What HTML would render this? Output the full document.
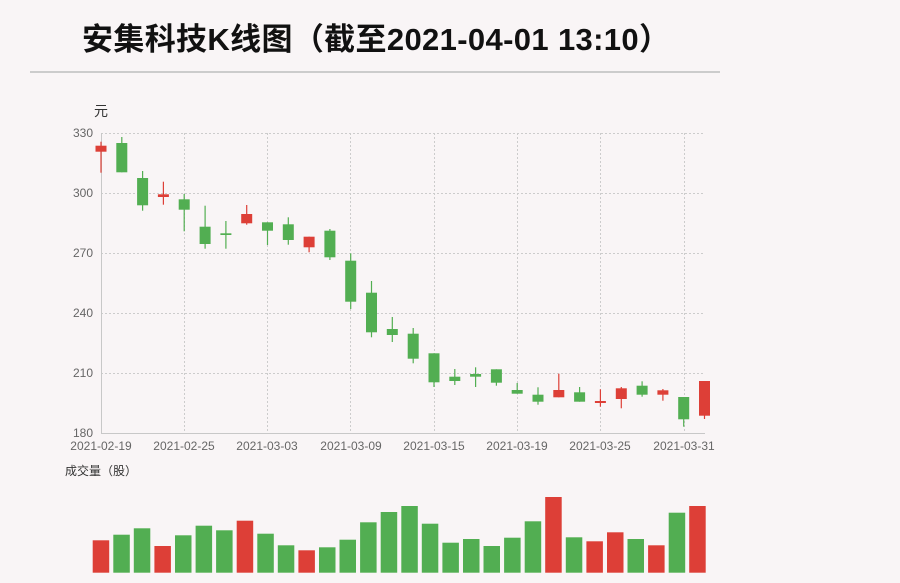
<!DOCTYPE html>
<html><head><meta charset="utf-8"><style>
html,body{margin:0;padding:0;background:#f9f5f6;}
svg{display:block;}
text{font-family:"Liberation Sans","Noto Sans CJK SC",sans-serif;}
</style></head><body>
<svg width="900" height="583" viewBox="0 0 900 583" xmlns="http://www.w3.org/2000/svg">
<rect width="900" height="583" fill="#f9f5f6"/>
<text x="82" y="50" font-size="31" font-weight="bold" fill="#111" textLength="588" lengthAdjust="spacing">安集科技K线图（截至2021-04-01 13:10）</text>
<rect x="30" y="71" width="690" height="2" fill="#cccccc"/>
<text x="94" y="116" font-size="14" fill="#333">元</text>
<g stroke="#cccccc" stroke-width="1" stroke-dasharray="2,2" fill="none">
<line x1="101" y1="133.5" x2="704" y2="133.5"/>
<line x1="101" y1="193.5" x2="704" y2="193.5"/>
<line x1="101" y1="253.5" x2="704" y2="253.5"/>
<line x1="101" y1="313.5" x2="704" y2="313.5"/>
<line x1="101" y1="373.5" x2="704" y2="373.5"/>
<line x1="184.5" y1="133" x2="184.5" y2="433"/>
<line x1="267.5" y1="133" x2="267.5" y2="433"/>
<line x1="350.5" y1="133" x2="350.5" y2="433"/>
<line x1="434.5" y1="133" x2="434.5" y2="433"/>
<line x1="517.5" y1="133" x2="517.5" y2="433"/>
<line x1="600.5" y1="133" x2="600.5" y2="433"/>
<line x1="684.5" y1="133" x2="684.5" y2="433"/>
</g>
<g stroke="#c8c8c8" stroke-width="1">
<line x1="101.5" y1="133" x2="101.5" y2="433"/>
<line x1="101" y1="433.5" x2="705" y2="433.5"/>
</g>
<g font-size="12" fill="#666" text-anchor="end">
<text x="93" y="137">330</text>
<text x="93" y="197">300</text>
<text x="93" y="257">270</text>
<text x="93" y="317">240</text>
<text x="93" y="377">210</text>
<text x="93" y="437">180</text>
</g>
<g font-size="12" fill="#666" text-anchor="middle">
<text x="101" y="450">2021-02-19</text>
<text x="184" y="450">2021-02-25</text>
<text x="267" y="450">2021-03-03</text>
<text x="351" y="450">2021-03-09</text>
<text x="434" y="450">2021-03-15</text>
<text x="517" y="450">2021-03-19</text>
<text x="600" y="450">2021-03-25</text>
<text x="684" y="450">2021-03-31</text>
</g>
<g stroke-width="1.2">
<line x1="101" y1="141.7" x2="101" y2="172.7" stroke="#dd3f37"/>
<line x1="121.8" y1="137" x2="121.8" y2="172.3" stroke="#52ae52"/>
<line x1="142.6" y1="171" x2="142.6" y2="210.7" stroke="#52ae52"/>
<line x1="163.4" y1="181.7" x2="163.4" y2="204.7" stroke="#dd3f37"/>
<line x1="184.2" y1="194" x2="184.2" y2="231.3" stroke="#52ae52"/>
<line x1="205.1" y1="205.7" x2="205.1" y2="248.7" stroke="#52ae52"/>
<line x1="225.9" y1="221" x2="225.9" y2="248.7" stroke="#52ae52"/>
<line x1="246.7" y1="205" x2="246.7" y2="224.7" stroke="#dd3f37"/>
<line x1="267.5" y1="222.3" x2="267.5" y2="245" stroke="#52ae52"/>
<line x1="288.3" y1="217.3" x2="288.3" y2="244.7" stroke="#52ae52"/>
<line x1="309.1" y1="236.7" x2="309.1" y2="252.3" stroke="#dd3f37"/>
<line x1="329.9" y1="229" x2="329.9" y2="260" stroke="#52ae52"/>
<line x1="350.7" y1="253.3" x2="350.7" y2="309" stroke="#52ae52"/>
<line x1="371.5" y1="281" x2="371.5" y2="337.3" stroke="#52ae52"/>
<line x1="392.3" y1="317" x2="392.3" y2="342" stroke="#52ae52"/>
<line x1="413.2" y1="328" x2="413.2" y2="363.3" stroke="#52ae52"/>
<line x1="434" y1="353.3" x2="434" y2="387" stroke="#52ae52"/>
<line x1="454.8" y1="369" x2="454.8" y2="385" stroke="#52ae52"/>
<line x1="475.6" y1="367.3" x2="475.6" y2="387" stroke="#52ae52"/>
<line x1="496.4" y1="369.3" x2="496.4" y2="385.7" stroke="#52ae52"/>
<line x1="517.2" y1="383" x2="517.2" y2="393.7" stroke="#52ae52"/>
<line x1="538" y1="387.3" x2="538" y2="404.7" stroke="#52ae52"/>
<line x1="558.8" y1="373.7" x2="558.8" y2="397.3" stroke="#dd3f37"/>
<line x1="579.6" y1="387" x2="579.6" y2="401.7" stroke="#52ae52"/>
<line x1="600.4" y1="389.3" x2="600.4" y2="406.7" stroke="#dd3f37"/>
<line x1="621.3" y1="387" x2="621.3" y2="408.3" stroke="#dd3f37"/>
<line x1="642.1" y1="381.3" x2="642.1" y2="396.7" stroke="#52ae52"/>
<line x1="662.9" y1="389" x2="662.9" y2="400.7" stroke="#dd3f37"/>
<line x1="683.7" y1="397" x2="683.7" y2="426.7" stroke="#52ae52"/>
<line x1="704.5" y1="381" x2="704.5" y2="419" stroke="#dd3f37"/>
</g>
<g>
<rect x="95.5" y="145.7" width="11" height="6" fill="#dd3f37"/>
<rect x="116.3" y="143" width="11" height="29.3" fill="#52ae52"/>
<rect x="137.1" y="178" width="11" height="27.3" fill="#52ae52"/>
<rect x="157.9" y="194.3" width="11" height="2.7" fill="#dd3f37"/>
<rect x="178.7" y="199.3" width="11" height="10.4" fill="#52ae52"/>
<rect x="199.6" y="226.7" width="11" height="17.3" fill="#52ae52"/>
<rect x="220.4" y="233.3" width="11" height="1.7" fill="#52ae52"/>
<rect x="241.2" y="214" width="11" height="9.3" fill="#dd3f37"/>
<rect x="262" y="222.3" width="11" height="8.4" fill="#52ae52"/>
<rect x="282.8" y="224.3" width="11" height="15.7" fill="#52ae52"/>
<rect x="303.6" y="236.7" width="11" height="10.6" fill="#dd3f37"/>
<rect x="324.4" y="230.7" width="11" height="26.6" fill="#52ae52"/>
<rect x="345.2" y="260.7" width="11" height="41" fill="#52ae52"/>
<rect x="366" y="292.7" width="11" height="39.6" fill="#52ae52"/>
<rect x="386.8" y="329" width="11" height="6" fill="#52ae52"/>
<rect x="407.7" y="333.7" width="11" height="25" fill="#52ae52"/>
<rect x="428.5" y="353.3" width="11" height="29" fill="#52ae52"/>
<rect x="449.3" y="376.7" width="11" height="4.3" fill="#52ae52"/>
<rect x="470.1" y="374" width="11" height="2.7" fill="#52ae52"/>
<rect x="490.9" y="369.3" width="11" height="13.4" fill="#52ae52"/>
<rect x="511.7" y="390" width="11" height="3.7" fill="#52ae52"/>
<rect x="532.5" y="394.7" width="11" height="7" fill="#52ae52"/>
<rect x="553.3" y="390" width="11" height="7.3" fill="#dd3f37"/>
<rect x="574.1" y="392.3" width="11" height="9.4" fill="#52ae52"/>
<rect x="594.9" y="401" width="11" height="2" fill="#dd3f37"/>
<rect x="615.8" y="388.3" width="11" height="10.7" fill="#dd3f37"/>
<rect x="636.6" y="385.7" width="11" height="9" fill="#52ae52"/>
<rect x="657.4" y="390.3" width="11" height="4.4" fill="#dd3f37"/>
<rect x="678.2" y="397" width="11" height="22.3" fill="#52ae52"/>
<rect x="699" y="381" width="11" height="34.7" fill="#dd3f37"/>
</g>
<text x="65" y="475" font-size="12" fill="#333">成交量（股）</text>
<g>
<rect x="92.7" y="540.3" width="16.5" height="32.4" fill="#dd3f37"/>
<rect x="113.3" y="534.7" width="16.5" height="38" fill="#52ae52"/>
<rect x="133.8" y="528.3" width="16.5" height="44.4" fill="#52ae52"/>
<rect x="154.4" y="546" width="16.5" height="26.7" fill="#dd3f37"/>
<rect x="175" y="535.3" width="16.5" height="37.4" fill="#52ae52"/>
<rect x="195.6" y="525.7" width="16.5" height="47" fill="#52ae52"/>
<rect x="216.1" y="530.3" width="16.5" height="42.4" fill="#52ae52"/>
<rect x="236.7" y="520.7" width="16.5" height="52" fill="#dd3f37"/>
<rect x="257.3" y="533.7" width="16.5" height="39" fill="#52ae52"/>
<rect x="277.8" y="545.3" width="16.5" height="27.4" fill="#52ae52"/>
<rect x="298.4" y="550.3" width="16.5" height="22.4" fill="#dd3f37"/>
<rect x="319" y="547.3" width="16.5" height="25.4" fill="#52ae52"/>
<rect x="339.5" y="539.7" width="16.5" height="33" fill="#52ae52"/>
<rect x="360.1" y="522.3" width="16.5" height="50.4" fill="#52ae52"/>
<rect x="380.7" y="512" width="16.5" height="60.7" fill="#52ae52"/>
<rect x="401.3" y="506" width="16.5" height="66.7" fill="#52ae52"/>
<rect x="421.8" y="523.7" width="16.5" height="49" fill="#52ae52"/>
<rect x="442.4" y="542.7" width="16.5" height="30" fill="#52ae52"/>
<rect x="463" y="539" width="16.5" height="33.7" fill="#52ae52"/>
<rect x="483.5" y="546" width="16.5" height="26.7" fill="#52ae52"/>
<rect x="504.1" y="537.7" width="16.5" height="35" fill="#52ae52"/>
<rect x="524.7" y="521.3" width="16.5" height="51.4" fill="#52ae52"/>
<rect x="545.2" y="497" width="16.5" height="75.7" fill="#dd3f37"/>
<rect x="565.8" y="537.3" width="16.5" height="35.4" fill="#52ae52"/>
<rect x="586.4" y="541.3" width="16.5" height="31.4" fill="#dd3f37"/>
<rect x="607" y="532.3" width="16.5" height="40.4" fill="#dd3f37"/>
<rect x="627.5" y="539" width="16.5" height="33.7" fill="#52ae52"/>
<rect x="648.1" y="545.3" width="16.5" height="27.4" fill="#dd3f37"/>
<rect x="668.7" y="512.7" width="16.5" height="60" fill="#52ae52"/>
<rect x="689.2" y="506" width="16.5" height="66.7" fill="#dd3f37"/>
</g>
</svg>
</body></html>
